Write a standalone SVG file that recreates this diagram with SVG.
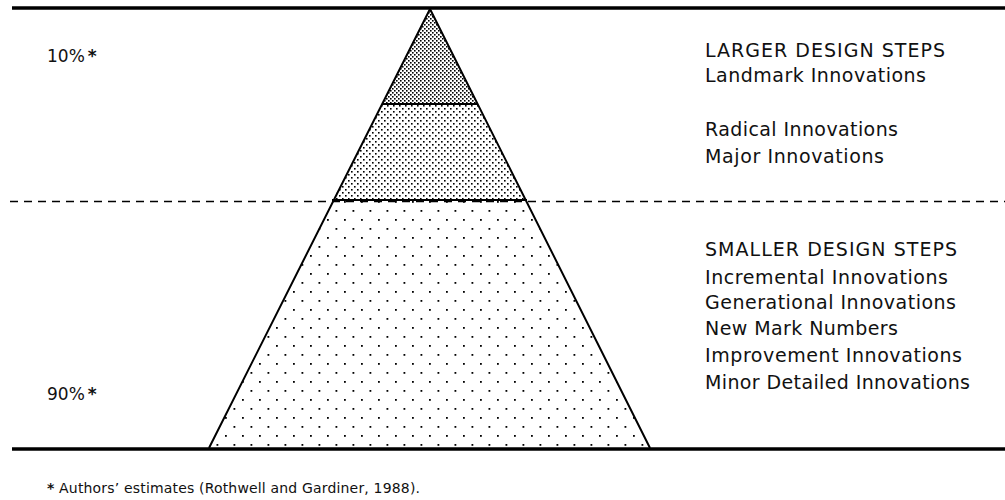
<svg xmlns="http://www.w3.org/2000/svg" width="1005" height="500" viewBox="0 0 1005 500">
  <style>
    .frame { stroke: #000; stroke-width: 3.5; fill: none; }
    .edge { stroke: #000; stroke-width: 2; fill: none; }
    .dash { stroke: #000; stroke-width: 1.5; stroke-dasharray: 8 6; fill: none; }
    .lbl { font-family: "DejaVu Sans", Verdana, sans-serif; font-size: 19px; fill: #111; }
    .pct { font-family: "DejaVu Sans", Verdana, sans-serif; font-size: 17px; fill: #111; }
    .note { font-family: "DejaVu Sans", Tahoma, sans-serif; font-size: 14px; fill: #111; }
  </style>
  <defs>
    <!-- dense cross-hatch for the top band -->
    <pattern id="hatch" width="4" height="4" patternUnits="userSpaceOnUse">
      <rect x="0" y="0" width="4" height="4" fill="#fff"/>
      <rect x="0" y="0" width="1.6" height="1.6" fill="#000"/>
      <rect x="2" y="2" width="1.6" height="1.6" fill="#000"/>
    </pattern>
    <!-- medium dot screen for the middle band -->
    <pattern id="dotsMid" width="6" height="6" patternUnits="userSpaceOnUse">
      <rect x="0" y="0" width="6" height="6" fill="#fff"/>
      <rect x="0" y="0" width="1.6" height="1.6" fill="#000"/>
      <rect x="3" y="3" width="1.6" height="1.6" fill="#000"/>
    </pattern>
    <!-- sparse staggered dots for the base -->
    <pattern id="dotsLow" x="4" y="3" width="17" height="18" patternUnits="userSpaceOnUse">
      <rect x="0" y="0" width="17" height="18" fill="#fff"/>
      <rect x="0" y="0" width="1.8" height="1.8" fill="#000"/>
      <rect x="8.5" y="9" width="1.8" height="1.8" fill="#000"/>
    </pattern>
  </defs>

  <!-- pyramid bands -->
  <g id="band-top">
    <polygon points="430,9 477.5,104 382.5,104" fill="url(#hatch)"/>
  </g>
  <g id="band-middle">
    <polygon points="382.5,104 477.5,104 526,200 333,200" fill="url(#dotsMid)"/>
  </g>
  <g id="band-base">
    <polygon points="333,200 526,200 650,448 209,448" fill="url(#dotsLow)"/>
  </g>

  <!-- outlines and rules -->
  <g id="connectors">
    <line class="frame" x1="12" y1="8" x2="1005" y2="8"/>
    <line class="frame" x1="12" y1="449" x2="1005" y2="449"/>
    <line class="dash" x1="10" y1="201.5" x2="1005" y2="201.5"/>
    <polyline class="edge" points="209,448 430,9 650,448"/>
    <line class="edge" x1="382" y1="104" x2="478" y2="104"/>
    <line class="edge" x1="332" y1="200" x2="527" y2="200"/>
  </g>

  <!-- percentage estimates -->
  <g id="pct-top">
    <text class="pct" x="47" y="62">10%<tspan dx="3" font-weight="bold">*</tspan></text>
  </g>
  <g id="pct-bottom">
    <text class="pct" x="47" y="400">90%<tspan dx="3" font-weight="bold">*</tspan></text>
  </g>

  <!-- innovation categories -->
  <g id="larger-steps">
    <text class="lbl" x="705" y="57" textLength="240" lengthAdjust="spacing">LARGER DESIGN STEPS</text>
    <text class="lbl" x="705" y="82" textLength="221" lengthAdjust="spacing">Landmark Innovations</text>
    <text class="lbl" x="705" y="136" textLength="193" lengthAdjust="spacing">Radical Innovations</text>
    <text class="lbl" x="705" y="163" textLength="179" lengthAdjust="spacing">Major Innovations</text>
  </g>
  <g id="smaller-steps">
    <text class="lbl" x="705" y="256" textLength="252" lengthAdjust="spacing">SMALLER DESIGN STEPS</text>
    <text class="lbl" x="705" y="284" textLength="243" lengthAdjust="spacing">Incremental Innovations</text>
    <text class="lbl" x="705" y="309" textLength="251" lengthAdjust="spacing">Generational Innovations</text>
    <text class="lbl" x="705" y="335" textLength="193" lengthAdjust="spacing">New Mark Numbers</text>
    <text class="lbl" x="705" y="362" textLength="257" lengthAdjust="spacing">Improvement Innovations</text>
    <text class="lbl" x="705" y="389" textLength="265" lengthAdjust="spacing">Minor Detailed Innovations</text>
  </g>

  <g id="footnote">
    <text class="note" x="47" y="493" textLength="373" lengthAdjust="spacing"><tspan font-weight="bold">*</tspan> Authors’ estimates (Rothwell and Gardiner, 1988).</text>
  </g>
</svg>
